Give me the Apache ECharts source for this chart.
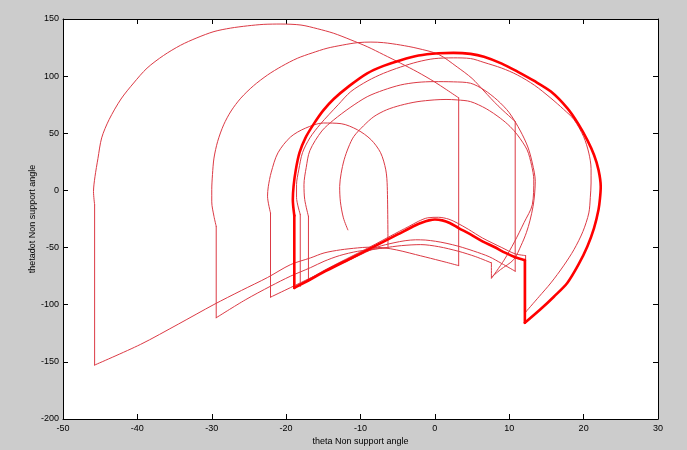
<!DOCTYPE html>
<html>
<head>
<meta charset="utf-8">
<script src="https://cdn.jsdelivr.net/npm/echarts@6.0.0/dist/echarts.min.js"></script>
<style>
  html, body { margin: 0; padding: 0; background: #cccccc; }
  #chart { width: 687px; height: 450px; }
</style>
</head>
<body>
<div id="chart"></div>
<script>
// phase portrait, theta vs thetadot
const xTicks = [-50, -40, -30, -20, -10, 0, 10, 20, 30];
const yTicks = [-200, -150, -100, -50, 0, 50, 100, 150];

// first swing, starts at (-11.7, -34.5)
const startSwing = [
  [-11.7, -34.5], [-12.3, -24], [-12.7, -10], [-12.8, 3.5], [-12.6, 15], [-12.2, 26.8],
  [-11.6, 38], [-10.9, 47.2], [-9.6, 56.5], [-8.2, 64.6], [-6.5, 70.5], [-4.6, 74.5],
  [-2.4, 77.6], [-0.1, 79.2], [1.5, 79.6], [3, 79.2], [4.8, 77.7], [6.9, 71.5],
  [8.8, 63.2], [10.1, 56], [11.1, 48.6], [12.4, 35.5], [13, 22], [13.3, 9.3],
  [13.1, -12.5], [12, -28], [10.7, -45], [9.3, -61], [7.6, -77], [7.6, -63.4]
];
const lowerB = [
  [7.6, -63.4], [5.5, -58], [3.2, -53.3], [0.5, -49.2], [-1.9, -47.4], [-4.5, -48.3],
  [-6.9, -50.3], [-10.4, -53.3], [-12.8, -57], [-14.9, -62], [-16.7, -67.5],
  [-19.4, -75], [-22.1, -83.8], [-25.5, -95.8], [-29.4, -111.4]
];
const swingC = [
  [-29.4, -111.4], [-29.4, -31.4], [-29.7, -22.7], [-30, -10], [-30, 0.6], [-29.9, 14],
  [-29.7, 28.3], [-29.2, 43], [-28.4, 57.4], [-27.4, 69.5], [-26.1, 80.7], [-24.4, 91.5],
  [-22.5, 101], [-20.6, 108.6], [-18.5, 115.6], [-16.5, 120.3], [-14.5, 124.4],
  [-12.4, 127.2], [-10.4, 129.3], [-8.6, 129.8], [-6.9, 129.3], [-4.6, 127.2],
  [-2.4, 124.4], [0.5, 119], [3, 108], [5, 98], [6.6, 87], [8.5, 74], [10.8, 60.3],
  [10.8, -70.7]
];
const lowerC = [
  [10.8, -70.7], [9, -64], [7.3, -58], [5.2, -53], [3.2, -48.9], [1.5, -46.2],
  [0.1, -44.5], [-1.3, -43.4], [-2.6, -43.2], [-4, -44], [-5.5, -45.8], [-7.7, -49.5],
  [-10.9, -59], [-14.5, -70], [-16.7, -76.5], [-19.4, -85], [-22.1, -93.4]
];
const swingS = [
  [-22.1, -93.4], [-22.1, -19.7], [-22.5, -5], [-22.4, 3.2], [-22, 16], [-21.1, 32.9],
  [-19.4, 46.8], [-17.4, 54.5], [-15, 59], [-12.6, 58.4], [-10.4, 53], [-8.6, 44.5],
  [-7.3, 33], [-6.6, 18], [-6.4, 3.2], [-6.3, -50.3]
];
const lowerS = [
  [-6.3, -50.3], [-8.2, -51.5], [-10.4, -56], [-12.5, -62.5], [-14.9, -70.5], [-17, -79.5]
];
const swingD = [
  [-17, -79.5], [-17, -22.7], [-17.5, -8], [-17.6, 5], [-17.3, 20], [-16.8, 35],
  [-15.2, 52], [-13.6, 61.7], [-11.4, 72.5], [-9.1, 82], [-6.9, 87.8], [-4.6, 92.3],
  [-2.4, 94.5], [-0.1, 95.2], [2.5, 95], [4.8, 93.8], [6.6, 88], [8.4, 79], [10, 68],
  [11.5, 52], [12.5, 38], [13.1, 24], [13.5, 8], [13.4, -4], [13.2, -14], [12.8, -26],
  [12.3, -37], [11.6, -48], [10.6, -60.5], [8.8, -69.4], [7.6, -76]
];
const swingE = [
  [-18.1, -84], [-18.1, -21], [-18.6, -6], [-18.6, 5], [-18.3, 18], [-17.8, 33],
  [-16.8, 46], [-15.4, 58], [-13, 75], [-11.3, 86.5], [-9, 96], [-6.9, 102.5],
  [-4.6, 108], [-2.3, 112.5], [-0.1, 115.3], [2.5, 116], [4.8, 115.4], [6.6, 112],
  [9, 107], [11.1, 101], [13.4, 92], [15.6, 80.7], [17.3, 71], [18.7, 62], [20, 47],
  [20.7, 32.7], [21, 19], [21, 6.5], [20.9, -6], [20.7, -19.7], [19.9, -36],
  [18.7, -51.8], [17.3, -66], [15.6, -80.9], [14, -93], [12.2, -106.5], [12.2, -57]
];
const lowerE = [
  [12.2, -57], [10.8, -55.5], [9, -50], [6.4, -41.6], [4.5, -34], [3, -28.5],
  [1.9, -25.2], [0.5, -23.5], [-1, -24], [-2.2, -27], [-3.5, -31.5], [-6, -40],
  [-8, -47], [-11, -57], [-14.5, -68.6], [-17.2, -78.5], [-18.9, -84.5]
];
const swingBig = [
  [-45.75, -152.8], [-45.75, -12.5], [-45.9, -1], [-45.7, 12], [-45.3, 28], [-44.8, 46],
  [-43.8, 62], [-42.2, 80], [-40.5, 94], [-38.7, 107], [-36.5, 118], [-34.2, 127],
  [-32, 133.5], [-29.7, 139], [-27.5, 142], [-25.2, 144], [-23, 145.3], [-20.7, 145.6],
  [-18, 144.7], [-15.8, 141.5], [-13.6, 137.5], [-11.4, 132], [-9.1, 125.8],
  [-6.9, 118.8], [-4.6, 111.3], [-2.3, 103.5], [-0.1, 95.2], [1.6, 88], [3.2, 81],
  [3.2, -65.8]
];
const lowerA = [
  [3.2, -65.8], [1.6, -63], [0.1, -60.5], [-1.3, -58.2], [-2.6, -56.1], [-4.3, -53.3],
  [-6, -51], [-7.7, -49.8], [-9, -49.7], [-10.4, -50.3], [-12.7, -52], [-14.9, -54.7],
  [-16.7, -59], [-19.4, -64.9], [-22.5, -76.2], [-26, -87.5], [-29.7, -99.8],
  [-34.5, -117], [-39.6, -134.8], [-45.75, -152.8]
];
// the repeated (limit) cycle, drawn thick
const limitCycle = [
  [-18.9, -85.3], [-18.9, -22], [-19.1, -8], [-19, 3.5], [-18.7, 18], [-18.2, 33],
  [-17.4, 46], [-16.3, 58], [-15, 70], [-13.6, 80], [-11.5, 91.5], [-9.1, 102.5],
  [-6.9, 109], [-4.6, 114], [-2.2, 118], [0.5, 120], [2.5, 120.4], [4.8, 119.5],
  [6.6, 117], [9, 111], [11.1, 104], [13.3, 96], [15.6, 86.5], [17.8, 72], [19.3, 58],
  [20.5, 44], [21.4, 31], [22, 18], [22.3, 3.5], [22.2, -7], [22, -16.9], [21.4, -33],
  [20.5, -49], [19.3, -65], [17.8, -81], [16, -93], [14.2, -104], [12.1, -115.8],
  [12.1, -61], [10.8, -58.5], [9.5, -54.7], [8, -49.5], [6.4, -44.5], [4.8, -38.5],
  [3.2, -32.9], [2, -28.5], [1, -26.2], [0, -25.4], [-0.8, -26.2], [-1.7, -28],
  [-2.6, -30.5], [-5, -38.5], [-8, -48.5], [-11, -58.5], [-14.5, -70], [-17.2, -79.5],
  [-18.9, -85.3]
];

const thinPaths = [startSwing, lowerB, swingC, lowerC, swingS, lowerS, swingD,
  swingE, lowerE, swingBig, lowerA];

const FONT = 'Liberation Sans, Arial, sans-serif';
const THIN = '#dc3a45';
const THICK = '#ff0000';

// split a path at the impact jumps (vertical moves) so the swing arcs can be
// smoothed while the jumps stay straight and the corners stay sharp
function splitRuns(path) {
  const runs = [];
  let cur = [path[0]];
  for (let i = 1; i < path.length; i++) {
    const p = path[i - 1];
    const q = path[i];
    const jump = Math.abs(q[0] - p[0]) < 0.05 && Math.abs(q[1] - p[1]) > 20;
    if (jump) {
      if (cur.length > 1) runs.push({ pts: cur, smooth: true });
      runs.push({ pts: [p, q], smooth: false });
      cur = [q];
    } else {
      cur.push(q);
    }
  }
  if (cur.length > 1) runs.push({ pts: cur, smooth: true });
  return runs;
}

function toSeries(path, color, width) {
  return splitRuns(path).map((run) => ({
    type: 'line',
    data: run.pts,
    smooth: run.smooth ? 0.3 : false,
    showSymbol: false,
    silent: true,
    lineStyle: { color, width, cap: 'round', join: 'round' },
  }));
}

const chart = echarts.init(document.getElementById('chart'), null, { renderer: 'canvas' });

const axisCommon = {
  axisLine: { show: true, onZero: false, lineStyle: { color: '#000', width: 1 } },
  axisTick: { show: true, inside: true, length: 5, lineStyle: { color: '#000' } },
  splitLine: { show: false },
};

const option = {
  animation: false,
  backgroundColor: '#cccccc',
  grid: {
    left: 63,
    right: 29,
    top: 19,
    bottom: 31,
    outerBoundsMode: 'none',
    show: true,
    backgroundColor: '#ffffff',
    borderWidth: 0,
  },
  xAxis: [
    {
      ...axisCommon,
      type: 'value',
      min: xTicks[0],
      max: xTicks[xTicks.length - 1],
      interval: 10,
      name: 'theta Non support angle',
      nameLocation: 'middle',
      nameGap: 18,
      nameMoveOverlap: false,
      nameTextStyle: { color: '#000', fontFamily: FONT, fontSize: 9 },
      axisLabel: { color: '#000', fontFamily: FONT, fontSize: 9, margin: 5 },
    },
    {
      ...axisCommon,
      type: 'value',
      position: 'top',
      min: xTicks[0],
      max: xTicks[xTicks.length - 1],
      interval: 10,
      axisLabel: { show: false },
    },
  ],
  yAxis: [
    {
      ...axisCommon,
      type: 'value',
      min: yTicks[0],
      max: yTicks[yTicks.length - 1],
      interval: 50,
      name: 'thetadot Non support angle',
      nameLocation: 'middle',
      nameGap: 26,
      nameMoveOverlap: false,
      nameTextStyle: { color: '#000', fontFamily: FONT, fontSize: 9 },
      axisLabel: { color: '#000', fontFamily: FONT, fontSize: 9, margin: 4 },
    },
    {
      ...axisCommon,
      type: 'value',
      position: 'right',
      min: yTicks[0],
      max: yTicks[yTicks.length - 1],
      interval: 50,
      axisLabel: { show: false },
    },
  ],
  series: [
    ...thinPaths.flatMap((p) => toSeries(p, THIN, 1)),
    ...toSeries(limitCycle, THICK, 2.6),
  ],
};

chart.setOption(option);
</script>
</body>
</html>
